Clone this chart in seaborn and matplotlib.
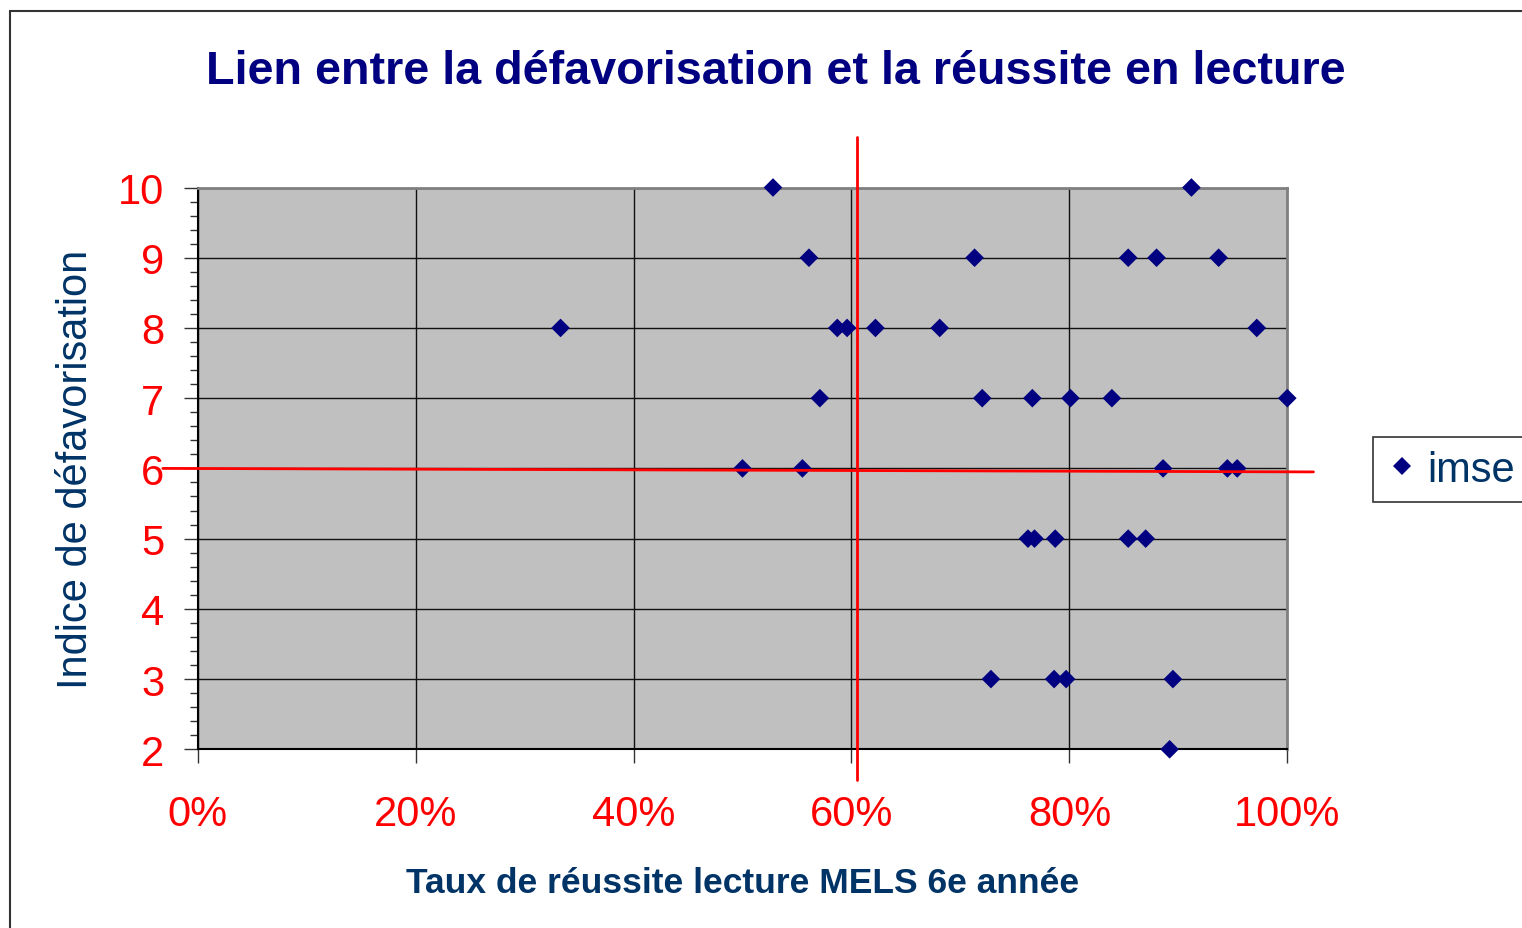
import pandas as pd
import seaborn as sns
import matplotlib.pyplot as plt
from matplotlib.patches import Rectangle
from matplotlib.ticker import PercentFormatter, MultipleLocator

# Global style
sns.set_style("white")
plt.rcParams["font.family"] = ["Liberation Sans", "DejaVu Sans"]

# Data
taux = [
    0.528, 0.912,
    0.561, 0.713, 0.854, 0.880, 0.937,
    0.333, 0.587, 0.596, 0.622, 0.681, 0.972,
    0.571, 0.720, 0.766, 0.801, 0.839, 1.000,
    0.500, 0.555, 0.886, 0.945, 0.954,
    0.762, 0.768, 0.787, 0.854, 0.870,
    0.728, 0.786, 0.797, 0.895,
    0.892,
]
indice = [10] * 2 + [9] * 5 + [8] * 6 + [7] * 6 + [6] * 5 + [5] * 5 + [3] * 4 + [2]
serie = "imse"

# Red cut-off lines
seuil_taux = 0.605
seuil_indice = 5.97

titre = "Lien entre la défavorisation et la réussite en lecture"
x_label = "Taux de réussite lecture MELS 6e année"
y_label = "Indice de défavorisation"

df = pd.DataFrame({"taux": taux, "indice": indice, "serie": serie})

W, H = 1522, 929
fig = plt.figure(figsize=(W / 100, H / 100), dpi=100)
ax = fig.add_axes([197.7 / W, 1 - 750.3 / H, 1089.6 / W, 561.8 / H])
ax.set_facecolor("#C0C0C0")

sns.scatterplot(
    data=df, x="taux", y="indice", hue="serie", palette=["#000080"],
    marker="D", s=90, edgecolor="#000080", linewidth=0, ax=ax, zorder=3,
    clip_on=False,
)

ax.set_xlim(0, 1)
ax.set_ylim(2, 10)
ax.xaxis.set_major_locator(MultipleLocator(0.2))
ax.xaxis.set_major_formatter(PercentFormatter(1.0, decimals=0))
ax.yaxis.set_major_locator(MultipleLocator(1))
ax.yaxis.set_minor_locator(MultipleLocator(0.2))
ax.grid(True, which="major", color="#111111", lw=1.0, zorder=1)
ax.set_axisbelow(True)

ax.tick_params(axis="x", which="major", direction="out", length=10, width=1,
               color="#333333", labelsize=30, labelcolor="#FF0000", pad=22, bottom=True)
ax.tick_params(axis="y", which="major", direction="out", length=10, width=1,
               color="#333333", labelsize=30, labelcolor="#FF0000", pad=14, left=True)
ax.tick_params(axis="y", which="minor", direction="out", length=6, width=1,
               color="#333333", left=True)

for side in ["left", "bottom"]:
    ax.spines[side].set_color("black")
    ax.spines[side].set_linewidth(1.5)
for side in ["top", "right"]:
    ax.spines[side].set_color("#808080")
    ax.spines[side].set_linewidth(2)

ax.set_xlabel(x_label, fontsize=25.5, fontweight="bold", color="#003366", labelpad=23)
ax.set_ylabel(y_label, fontsize=30, color="#003366", labelpad=16)

# Cut-off lines drawn past the plot frame
ax.plot([seuil_taux, seuil_taux], [10.715, 1.56], color="#FF0000", lw=2,
        clip_on=False, zorder=4)
ax.plot([-0.032, 1.024], [6.0, 5.95], color="#FF0000", lw=2,
        clip_on=False, zorder=4)

fig.text(776 / W, 1 - 72 / H, titre, ha="center", va="center",
         fontsize=33.7, fontweight="bold", color="#000080")

ax.legend(
    loc="center left", bbox_to_anchor=(1373 / W, 1 - 470.5 / H),
    bbox_transform=fig.transFigure, frameon=True, fancybox=False,
    edgecolor="black", fontsize=30, labelcolor="#003366", handletextpad=0.2,
    borderpad=0.3, handlelength=0.8, markerscale=1.0, borderaxespad=0,
)
ax.get_legend().get_frame().set_linewidth(1.2)
ax.get_legend().set_title(None)

# Outer chart border
fig.patches.append(Rectangle((10 / W, -0.01), 1.0, 1 - 12 / H + 0.01,
                             transform=fig.transFigure, fill=False,
                             edgecolor="#333333", lw=1.5))

fig.savefig("out.png", dpi=100)
